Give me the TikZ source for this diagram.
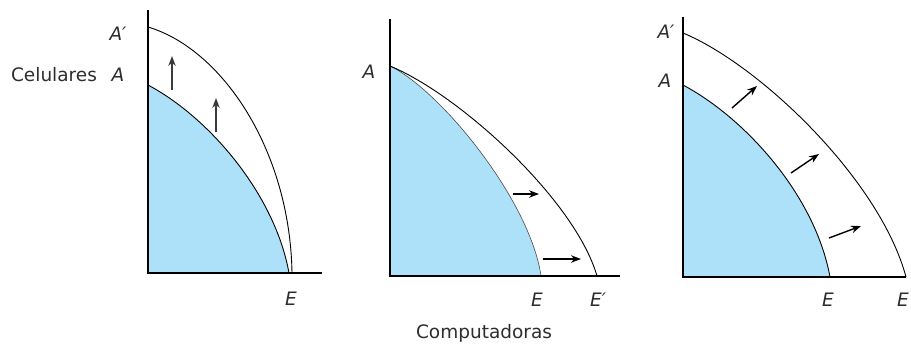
\documentclass[tikz,border=0pt]{standalone}
\usepackage{fontspec}
\setmainfont{DejaVu Sans}
\usetikzlibrary{arrows.meta}
\definecolor{ppfblue}{RGB}{173,225,249}
\definecolor{arrgray}{RGB}{60,60,60}
\definecolor{txtgray}{RGB}{45,45,45}
\tikzset{
  axisline/.style={line width=1.1pt,black},
  curveline/.style={line width=0.9pt,black},
  shiftarrow/.style={line width=1.4pt,-{Stealth[length=10pt,width=7.5pt]}},
  lbl/.style={font=\fontsize{18.5}{20}\selectfont\itshape,inner sep=0pt,text=txtgray},
  txt/.style={font=\fontsize{18.5}{20}\selectfont,inner sep=0pt,text=txtgray}
}
\begin{document}
\begin{tikzpicture}[x=1pt,y=-1pt]
\useasboundingbox (0,0) rectangle (911,343);
% ---------- Panel 1 ----------
\fill[ppfblue] (148,273) -- (148,85) .. controls (210,118) and (275,195) .. (289,273) -- cycle;
\draw[curveline] (148,85) .. controls (210,118) and (275,195) .. (289,273);
\draw[curveline] (148,27) .. controls (222,49) and (290,150) .. (292,273);
\draw[axisline] (148,10) -- (148,273) -- (322,273);
\draw[shiftarrow,arrgray] (172,90) -- (172,56);
\draw[shiftarrow,arrgray] (216,132) -- (216,98);
\node[lbl] (a1p) at (118,34) {A′};
\node[txt] (cel) at (54,75) {Celulares};
\node[lbl] (a1) at (118,75) {A};
\node[lbl] (e1) at (291,299) {E};
% ---------- Panel 2 ----------
\fill[ppfblue] (390,276) -- (390,66) .. controls (440,90) and (530,200) .. (541,276) -- cycle;
\draw[line width=0.6pt,black!70] (390,66) .. controls (440,90) and (530,200) .. (541,276);
\draw[curveline] (390,66) .. controls (460,95) and (575,200) .. (597,276);
\draw[axisline] (390,19) -- (390,276) -- (620,276);
\draw[shiftarrow] (513,194) -- (539,194);
\draw[shiftarrow] (543,259) -- (581,259);
\node[lbl] (a2) at (369,72) {A};
\node[lbl] (e2) at (537,300) {E};
\node[lbl] (e2p) at (598,300) {E′};
\node[txt] (comp) at (484,333) {Computadoras};
% ---------- Panel 3 ----------
\fill[ppfblue] (683,277) -- (683,85) .. controls (745,118) and (815,195) .. (830,277) -- cycle;
\draw[curveline] (683,85) .. controls (745,118) and (815,195) .. (830,277);
\draw[curveline] (683,33) .. controls (760,65) and (880,180) .. (906,277);
\draw[axisline] (683,17) -- (683,277) -- (906,277);
\draw[shiftarrow] (732,108) -- (757,86);
\draw[shiftarrow] (791,173) -- (819,154);
\draw[shiftarrow] (829,238) -- (861,226);
\node[lbl] (a3p) at (666,32) {A′};
\node[lbl] (a3) at (665,81) {A};
\node[lbl] (e3) at (828,300) {E};
\node[lbl] (e3b) at (903,300) {E};
\end{tikzpicture}
\end{document}
